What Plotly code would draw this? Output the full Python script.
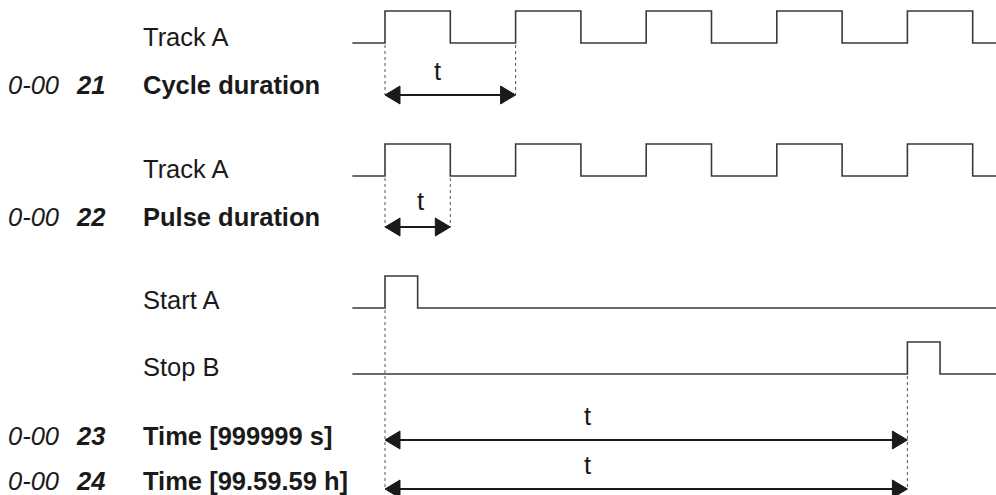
import plotly.graph_objects as go

# Signal edges, in pulse units (one unit = one Track A pulse, half a cycle)
track_a_edges = [0, 1, 2, 3, 4, 5, 6, 7, 8, 9]
start_a_edges = [0, 0.5]
stop_b_edges = [8, 8.5]
signal_start, signal_end = -0.5, 9.5

signal_names = ["Track A", "Track A", "Start A", "Stop B"]
signal_edges = [track_a_edges, track_a_edges, start_a_edges, stop_b_edges]

# Parameters and the span t that each one measures
codes = ["0-00", "0-00", "0-00", "0-00"]
numbers = ["21", "22", "23", "24"]
names = ["Cycle duration", "Pulse duration", "Time [999999 s]", "Time [99.59.59 h]"]
span_start = [0, 0, 0, 0]
span_end = [2, 1, 8, 8]
span_label = ["t", "t", "t", "t"]

# ---- layout (pixels) ----
W, H = 996, 495
X0, PX = 385, 65.3          # pixel of t=0, pixels per unit
AMP = 32
sig_low_y = [43, 176, 308, 374]
sig_label_y = [37, 169, 300, 367]
name_y = [85, 217, 436, 481]
arrow_y = [95, 227, 440, 489]
t_lab_x = [0.8, 0.55, 3.1, 3.1]
t_lab_y = [71, 201, 416, 465]
HEAD_L, HEAD_W = 15 / PX, 9

LINE = "#3a3a3a"
INK = "#1a1a1a"
FONT = "Liberation Sans, Arial, sans-serif"
FS = 25.5


def step(edges, start, end):
    xs, ys, level = [start], [0], 0
    for e in edges:
        xs += [e, e]
        ys += [level, 1 - level]
        level = 1 - level
    xs.append(end)
    ys.append(level)
    return xs, ys


fig = go.Figure()

# waveforms
for base, edges in zip(sig_low_y, signal_edges):
    xs, lv = step(edges, signal_start, signal_end)
    fig.add_trace(go.Scatter(x=xs, y=[base - AMP * v for v in lv], mode="lines",
                             line=dict(color=LINE, width=1.6), hoverinfo="skip"))

# dotted guides
guides = [
    (span_start[0], sig_low_y[0], arrow_y[0]), (span_end[0], sig_low_y[0], arrow_y[0]),
    (span_start[1], sig_low_y[1], arrow_y[1]), (span_end[1], sig_low_y[1], arrow_y[1]),
    (span_start[2], sig_low_y[2], arrow_y[3]), (span_end[2], sig_low_y[3], arrow_y[3]),
]
for gx, y1, y2 in guides:
    fig.add_trace(go.Scatter(x=[gx, gx], y=[y1 + 2, y2], mode="lines",
                             line=dict(color="#555555", width=1, dash="dot"), hoverinfo="skip"))

# span arrows
for a, b, y in zip(span_start, span_end, arrow_y):
    fig.add_trace(go.Scatter(x=[a + HEAD_L / 2, b - HEAD_L / 2], y=[y, y], mode="lines",
                             line=dict(color=INK, width=2), hoverinfo="skip"))
    for tip, d in ((a, 1), (b, -1)):
        fig.add_trace(go.Scatter(
            x=[tip, tip + d * HEAD_L, tip + d * HEAD_L, tip],
            y=[y, y - HEAD_W, y + HEAD_W, y],
            mode="lines", fill="toself", fillcolor=INK,
            line=dict(color=INK, width=1), hoverinfo="skip"))

# texts
for i in range(4):
    fig.add_annotation(x=141 / W, xref="paper", y=sig_label_y[i], yref="y",
                       text=signal_names[i], showarrow=False, xanchor="left",
                       font=dict(family=FONT, size=FS, color=INK))
    fig.add_annotation(x=141 / W, xref="paper", y=name_y[i], yref="y",
                       text=f"<b>{names[i]}</b>", showarrow=False, xanchor="left",
                       font=dict(family=FONT, size=FS, color=INK))
    fig.add_annotation(x=6 / W, xref="paper", y=name_y[i], yref="y",
                       text=f"<i>{codes[i]}</i>", showarrow=False, xanchor="left",
                       font=dict(family=FONT, size=FS, color=INK))
    fig.add_annotation(x=74 / W, xref="paper", y=name_y[i], yref="y",
                       text=f"<b><i>{numbers[i]}</i></b>", showarrow=False, xanchor="left",
                       font=dict(family=FONT, size=FS, color=INK))
    fig.add_annotation(x=t_lab_x[i], y=t_lab_y[i], text=span_label[i], showarrow=False,
                       font=dict(family=FONT, size=FS, color=INK))

fig.update_layout(
    width=W, height=H,
    margin=dict(l=0, r=0, t=0, b=0),
    plot_bgcolor="#ffffff", paper_bgcolor="#ffffff",
    showlegend=False,
    xaxis=dict(range=[-X0 / PX, (W - X0) / PX], visible=False, fixedrange=True),
    yaxis=dict(range=[H, 0], visible=False, fixedrange=True),
)

# drop the page's default body margin so the figure sits at the window corner
fig.write_html("out.html", post_script="document.body.style.margin='0';",
               config={"displayModeBar": False})
